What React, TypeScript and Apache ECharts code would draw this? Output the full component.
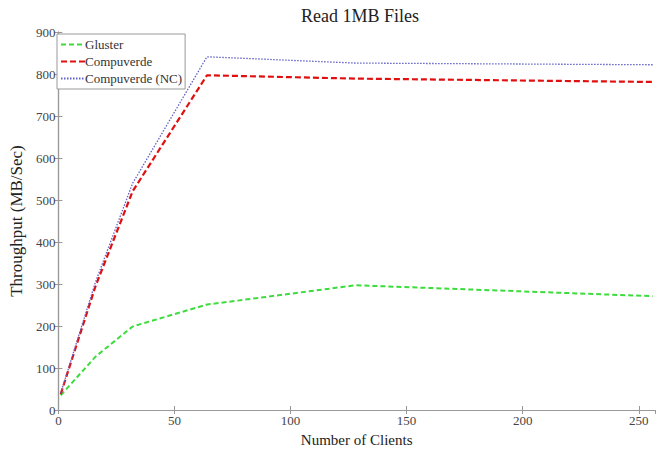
import React, { useEffect, useRef } from "react";
import * as echarts from "echarts";

const clients = [1, 16, 32, 64, 128, 256];
const gluster = [35, 127, 199, 251, 297, 271];
const compuverde = [38, 295, 521, 797, 789, 781];
const compuverdeNC = [40, 305, 540, 841, 826, 822];
const seriesNames = ["Gluster", "Compuverde", "Compuverde (NC)"];

const FONT = "Liberation Serif";

export default function App() {
  const ref = useRef<HTMLDivElement>(null);
  useEffect(() => {
    const chart = echarts.init(ref.current!, null, { renderer: "svg" });
    const pair = (ys: number[]) => clients.map((x, i) => [x, ys[i]]);
    const axisLine = { show: true, lineStyle: { color: "#999", width: 1.2 } };
    chart.setOption({
      animation: false,
      backgroundColor: "#fff",
      title: {
        text: "Read 1MB Files",
        left: 355,
        textAlign: "center",
        top: 2,
        textStyle: { fontFamily: FONT, fontSize: 18, fontWeight: "normal", color: "#222" },
      },
      legend: {
        orient: "vertical",
        left: 57,
        top: 34,
        itemWidth: 24,
        itemHeight: 12,
        itemGap: 4,
        padding: [4, 3, 4, 3],
        borderColor: "#999",
        borderWidth: 1,
        backgroundColor: "#fff",
        itemStyle: { opacity: 0 },
        textStyle: { fontFamily: FONT, fontSize: 13, color: "#333", padding: [0, 0, 0, -5] },
        data: seriesNames,
      },
      grid: { left: 56, right: 3, top: 32, bottom: 36, show: false },
      xAxis: [
        {
          type: "value",
          min: 0,
          max: 257,
          interval: 50,
          name: "Number of Clients",
          nameLocation: "middle",
          nameGap: 22,
          nameTextStyle: { fontFamily: FONT, fontSize: 15, color: "#222" },
          axisLine,
          axisTick: { inside: true, length: 4, lineStyle: { color: "#999" } },
          axisLabel: { fontFamily: FONT, fontSize: 13, color: "#444", margin: 4, showMaxLabel: false },
          splitLine: { show: false },
        },
        {
          type: "value",
          position: "top",
          min: 0,
          max: 257,
          interval: 50,
          axisLine,
          axisTick: { inside: true, length: 4, lineStyle: { color: "#999" } },
          axisLabel: { show: false },
          splitLine: { show: false },
        },
      ],
      yAxis: [
        {
          type: "value",
          min: 0,
          max: 900,
          interval: 100,
          name: "Throughput (MB/Sec)",
          nameLocation: "middle",
          nameGap: 27,
          nameTextStyle: { fontFamily: FONT, fontSize: 17, color: "#222" },
          axisLine,
          axisTick: { inside: true, length: 4, lineStyle: { color: "#999" } },
          axisLabel: { fontFamily: FONT, fontSize: 13, color: "#444", margin: 3 },
          splitLine: { show: false },
        },
        {
          type: "value",
          position: "right",
          min: 0,
          max: 900,
          interval: 100,
          axisLine,
          axisTick: { inside: true, length: 4, lineStyle: { color: "#999" } },
          axisLabel: { show: false },
          splitLine: { show: false },
        },
      ],
      series: [
        {
          name: seriesNames[0],
          type: "line",
          data: pair(gluster),
          symbol: "none",
          lineStyle: { color: "#3ddc3d", width: 2, type: [5, 3] },
          itemStyle: { color: "#3ddc3d" },
        },
        {
          name: seriesNames[1],
          type: "line",
          data: pair(compuverde),
          symbol: "none",
          lineStyle: { color: "#e01010", width: 2.2, type: [6, 3] },
          itemStyle: { color: "#e01010" },
        },
        {
          name: seriesNames[2],
          type: "line",
          data: pair(compuverdeNC),
          symbol: "none",
          lineStyle: { color: "#6060c8", width: 1.3, type: [1.5, 1.5] },
          itemStyle: { color: "#6060c8" },
        },
      ],
    });
    return () => chart.dispose();
  }, []);
  return <div ref={ref} style={{ width: 658, height: 452, position: "absolute", left: 0, top: 0 }} />;
}
